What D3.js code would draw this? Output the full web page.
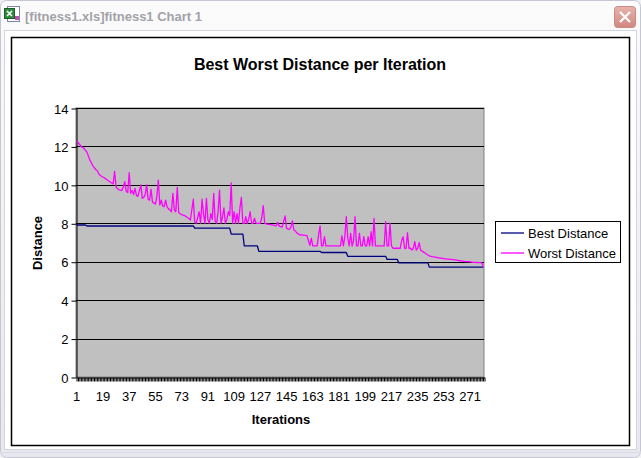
<!DOCTYPE html>
<html>
<head>
<meta charset="utf-8">
<script src="https://cdn.jsdelivr.net/npm/d3@7"></script>
<style>
  body { margin: 0; background: #fff; }
  svg { display: block; font-family: "Liberation Sans", Arial, sans-serif; }
</style>
</head>
<body>
<svg id="chart" width="641" height="458"></svg>
<script>
var windowTitle = "[fitness1.xls]fitness1 Chart 1";
var chartTitle = "Best Worst Distance per Iteration";
var seriesNames = ["Best Distance", "Worst Distance"];
var yTicks = [0, 2, 4, 6, 8, 10, 12, 14];
var xTickLabels = [1, 19, 37, 55, 73, 91, 109, 127, 145, 163, 181, 199, 217, 235, 253, 271];

var bestDistance = [
  7.91, 7.91, 7.91, 7.91, 7.91, 7.91, 7.91, 7.86, 7.86, 7.86, 7.86, 7.86, 7.86, 7.86, 7.86, 7.86, 7.86, 7.86, 7.86, 7.86,
  7.86, 7.86, 7.86, 7.86, 7.86, 7.86, 7.86, 7.86, 7.86, 7.86, 7.86, 7.86, 7.86, 7.86, 7.86, 7.86, 7.86, 7.86, 7.86, 7.86,
  7.86, 7.86, 7.86, 7.86, 7.86, 7.86, 7.86, 7.86, 7.86, 7.86, 7.86, 7.86, 7.86, 7.86, 7.86, 7.86, 7.86, 7.86, 7.86, 7.86,
  7.86, 7.86, 7.86, 7.86, 7.86, 7.86, 7.86, 7.86, 7.86, 7.86, 7.86, 7.86, 7.86, 7.86, 7.86, 7.86, 7.86, 7.86, 7.86, 7.86,
  7.86, 7.75, 7.75, 7.75, 7.75, 7.75, 7.75, 7.75, 7.75, 7.75, 7.75, 7.75, 7.75, 7.75, 7.75, 7.75, 7.75, 7.75, 7.75, 7.75,
  7.75, 7.75, 7.75, 7.75, 7.75, 7.75, 7.44, 7.44, 7.44, 7.44, 7.44, 7.44, 7.44, 7.44, 7.44, 6.82, 6.82, 6.82, 6.82, 6.82,
  6.82, 6.82, 6.82, 6.82, 6.82, 6.54, 6.54, 6.54, 6.54, 6.54, 6.54, 6.54, 6.54, 6.54, 6.54, 6.54, 6.54, 6.54, 6.54, 6.54,
  6.54, 6.54, 6.54, 6.54, 6.54, 6.54, 6.54, 6.54, 6.54, 6.54, 6.54, 6.54, 6.54, 6.54, 6.54, 6.54, 6.54, 6.54, 6.54, 6.54,
  6.54, 6.54, 6.54, 6.54, 6.54, 6.54, 6.54, 6.54, 6.48, 6.48, 6.48, 6.48, 6.48, 6.48, 6.48, 6.48, 6.48, 6.48, 6.48, 6.48,
  6.48, 6.48, 6.48, 6.48, 6.48, 6.48, 6.28, 6.28, 6.28, 6.28, 6.28, 6.28, 6.28, 6.28, 6.28, 6.28, 6.28, 6.28, 6.28, 6.28,
  6.28, 6.28, 6.28, 6.28, 6.28, 6.28, 6.28, 6.28, 6.28, 6.28, 6.28, 6.28, 6.28, 6.12, 6.12, 6.12, 6.12, 6.12, 6.12, 6.12,
  6.12, 5.94, 5.94, 5.94, 5.94, 5.94, 5.94, 5.94, 5.94, 5.94, 5.94, 5.94, 5.94, 5.94, 5.94, 5.94, 5.94, 5.94, 5.94, 5.94,
  5.94, 5.94, 5.72, 5.72, 5.72, 5.72, 5.72, 5.72, 5.72, 5.72, 5.72, 5.72, 5.72, 5.72, 5.72, 5.72, 5.72, 5.72, 5.72, 5.72,
  5.72, 5.72, 5.72, 5.72, 5.72, 5.72, 5.72, 5.72, 5.72, 5.72, 5.72, 5.72, 5.72, 5.72, 5.72, 5.72, 5.72, 5.72, 5.72, 5.72
];

var worstDistance = [
  12.3, 12.2, 12.1, 12.0, 11.95, 11.9, 11.8, 11.7, 11.5, 11.3,
  11.15, 11.0, 10.9, 10.8, 10.75, 10.6, 10.5, 10.45, 10.4, 10.37,
  10.3, 10.25, 10.2, 10.15, 10.1, 10.05, 10.7, 9.9, 9.8, 9.75,
  9.73, 9.7, 9.9, 10.17, 9.65, 9.6, 10.63, 9.56, 9.7, 9.5,
  9.82, 9.45, 9.4, 9.7, 10.0, 9.3, 9.35, 9.5, 10.0, 9.25,
  9.2, 9.77, 9.1, 9.05, 9.0, 9.4, 10.25, 8.95, 9.2, 8.9,
  8.86, 9.2, 8.86, 8.75, 8.7, 8.6, 9.56, 8.7, 8.6, 9.87,
  8.55, 8.5, 8.45, 8.43, 8.4, 8.35, 8.3, 8.25, 8.17, 8.7,
  9.25, 8.05, 8.0, 8.3, 8.6, 8.0, 9.25, 8.5, 8.0, 9.3,
  8.2, 8.0, 8.5, 8.2, 9.55, 8.1, 8.0, 8.6, 9.73, 8.0,
  8.3, 8.8, 8.0, 8.2, 8.6, 8.4, 10.1, 8.0, 8.6, 8.0,
  8.51, 8.0, 8.8, 9.35, 8.0, 8.0, 8.34, 8.0, 8.2, 8.6,
  8.0, 8.0, 8.26, 8.0, 8.0, 8.0, 8.0, 8.3, 8.92, 8.0,
  7.97, 7.95, 7.95, 7.93, 7.92, 7.9, 7.88, 7.87, 8.05, 7.85,
  7.82, 7.8, 8.1, 8.38, 7.75, 7.7, 7.68, 7.8, 8.12, 7.65,
  7.6, 7.5, 7.45, 7.4, 7.39, 7.38, 7.38, 7.37, 7.36, 7.1,
  6.85, 7.22, 6.82, 6.82, 6.82, 6.82, 7.4, 7.86, 6.82, 6.82,
  7.3, 6.82, 6.82, 6.82, 6.82, 6.82, 6.82, 6.82, 6.82, 6.82,
  6.82, 6.82, 7.35, 6.82, 7.3, 8.34, 7.24, 6.82, 7.48, 6.82,
  7.1, 8.34, 6.82, 6.82, 7.48, 6.82, 6.82, 7.3, 6.82, 6.82,
  7.3, 6.82, 7.56, 6.82, 8.26, 6.82, 6.82, 6.82, 6.82, 6.82,
  6.82, 6.82, 8.08, 6.82, 6.82, 8.0, 6.82, 6.7, 6.7, 6.7,
  6.7, 6.7, 6.7, 7.1, 7.3, 6.7, 6.7, 7.51, 6.7, 6.7,
  6.6, 6.7, 7.04, 6.6, 6.7, 6.99, 6.6, 6.55, 6.5, 6.45,
  6.4, 6.35, 6.3, 6.28, 6.26, 6.25, 6.24, 6.22, 6.2, 6.2,
  6.18, 6.17, 6.16, 6.15, 6.14, 6.13, 6.12, 6.12, 6.11, 6.1,
  6.1, 6.08, 6.06, 6.05, 6.04, 6.03, 6.02, 6.01, 6.0, 6.0,
  5.99, 5.98, 5.97, 5.97, 5.96, 5.96, 5.95, 5.95, 5.94, 5.73
];

var iterations = d3.range(1, bestDistance.length + 1);
var seriesColors = ["#000080", "#ff00ff"];

var svg = d3.select("#chart");
var plot = { left: 76, right: 484, top: 108, bottom: 377 };

// window chrome
var defs = svg.append("defs");
var grad = defs.append("linearGradient").attr("id", "titlebar").attr("x1", 0).attr("y1", 0).attr("x2", 0).attr("y2", 1);
grad.append("stop").attr("offset", "0%").attr("stop-color", "#fbfbfc");
grad.append("stop").attr("offset", "100%").attr("stop-color", "#e7e7ee");
var closeGrad = defs.append("linearGradient").attr("id", "closebtn").attr("x1", 0).attr("y1", 0).attr("x2", 0).attr("y2", 1);
closeGrad.append("stop").attr("offset", "0%").attr("stop-color", "#e8b3ad");
closeGrad.append("stop").attr("offset", "100%").attr("stop-color", "#d08880");

svg.append("rect").attr("width", 641).attr("height", 458).attr("fill", "#f1f1f5");
svg.append("rect").attr("x", 0.5).attr("y", 0.5).attr("width", 640).attr("height", 457)
  .attr("rx", 6).attr("fill", "url(#titlebar)").attr("stroke", "#c6c6d2");
svg.append("rect").attr("x", 4.5).attr("y", 30.5).attr("width", 632).attr("height", 419)
  .attr("fill", "#ffffff").attr("stroke", "#d4d4de");
svg.append("line").attr("x1", 0).attr("x2", 641).attr("y1", 452.5).attr("y2", 452.5).attr("stroke", "#dcdce6");

// excel icon
var icon = svg.append("g").attr("transform", "translate(4,6)");
icon.append("rect").attr("x", 3.5).attr("y", 0.5).attr("width", 12).attr("height", 15).attr("fill", "#ffffff").attr("stroke", "#7a8aa8");
icon.append("rect").attr("x", 0.5).attr("y", 2.5).attr("width", 10).attr("height", 10).attr("fill", "#2e8b3e").attr("stroke", "#1d5e28");
icon.append("path").attr("d", "M3,5 L8,10 M8,5 L3,10").attr("stroke", "#ffffff").attr("stroke-width", 1.6);
icon.append("rect").attr("x", 11).attr("y", 10).attr("width", 4).attr("height", 4).attr("fill", "#c04fb0");

svg.append("text").attr("x", 25).attr("y", 21)
  .style("font-size", "13px").style("font-weight", "bold").attr("fill", "#a2a2a8")
  .text(windowTitle);

var closeBtn = svg.append("g").attr("transform", "translate(614,6)");
closeBtn.append("rect").attr("x", 0.5).attr("y", 0.5).attr("width", 21).attr("height", 21).attr("rx", 3)
  .attr("fill", "url(#closebtn)").attr("stroke", "#c98a84");
closeBtn.append("path").attr("d", "M6,6 L16,16 M16,6 L6,16").attr("stroke", "#ffffff").attr("stroke-width", 2.2);

// chart area
svg.append("rect").attr("x", 11.5).attr("y", 37.5).attr("width", 618).attr("height", 408)
  .attr("fill", "#ffffff").attr("stroke", "#000000").attr("stroke-width", 1.5);

svg.append("text").attr("x", 320).attr("y", 70).attr("text-anchor", "middle")
  .style("font-size", "16px").style("font-weight", "bold").text(chartTitle);

var x = d3.scaleLinear().domain([0, iterations.length]).range([plot.left, plot.right]);
var y = d3.scaleLinear().domain([0, 14]).range([plot.bottom, plot.top]);
var xBand = d3.scaleBand().domain(iterations).range([plot.left, plot.right]).padding(0);

svg.append("rect").attr("x", plot.left).attr("y", plot.top)
  .attr("width", plot.right - plot.left).attr("height", plot.bottom - plot.top)
  .attr("fill", "#c0c0c0").attr("stroke", "#808080").attr("stroke-width", 1);

svg.append("g").selectAll("line")
  .data(yTicks.filter(function(d) { return d > 0; }))
  .enter().append("line")
  .attr("x1", plot.left).attr("x2", plot.right)
  .attr("y1", function(d) { return Math.round(y(d)) + 0.5; })
  .attr("y2", function(d) { return Math.round(y(d)) + 0.5; })
  .attr("stroke", "#000000").attr("stroke-width", 1);

var yAxis = svg.append("g").attr("transform", "translate(" + (plot.left + 0.5) + ",0.5)")
  .call(d3.axisLeft(y).tickValues(yTicks).tickSize(5).tickPadding(3).tickSizeOuter(0));
yAxis.selectAll("text").style("font-size", "13px").attr("fill", "#000").attr("dy", "0.36em");

var xAxis = svg.append("g").attr("transform", "translate(0.5," + (plot.bottom + 0.5) + ")")
  .call(d3.axisBottom(x).tickValues(d3.range(0, iterations.length + 1)).tickSize(4).tickFormat("").tickSizeOuter(0));

var xLabels = svg.append("g").attr("transform", "translate(0," + (plot.bottom + 0.5) + ")")
  .call(d3.axisBottom(xBand).tickValues(xTickLabels).tickSize(0).tickPadding(14));
xLabels.select(".domain").remove();
xLabels.selectAll("text").style("font-size", "13px").attr("fill", "#000");

svg.selectAll(".domain, .tick line").attr("stroke", "#000");

svg.append("text").attr("x", 281).attr("y", 424).attr("text-anchor", "middle")
  .style("font-size", "13px").style("font-weight", "bold").text("Iterations");
svg.append("text").attr("transform", "translate(42,243) rotate(-90)").attr("text-anchor", "middle")
  .style("font-size", "13px").style("font-weight", "bold").text("Distance");

var line = d3.line()
  .x(function(d, i) { return xBand(iterations[i]) + xBand.bandwidth() / 2; })
  .y(function(d) { return y(d); });

[bestDistance, worstDistance].forEach(function(series, k) {
  svg.append("path").datum(series)
    .attr("d", line)
    .attr("fill", "none")
    .attr("stroke", seriesColors[k])
    .attr("stroke-width", 1.3)
    .attr("stroke-linejoin", "round");
});

// legend
var legend = svg.append("g");
legend.append("rect").attr("x", 495.5).attr("y", 221.5).attr("width", 125).attr("height", 41)
  .attr("fill", "#ffffff").attr("stroke", "#000000").attr("stroke-width", 1);
seriesNames.forEach(function(name, k) {
  var ly = 233 + k * 20;
  legend.append("line").attr("x1", 501).attr("x2", 524).attr("y1", ly).attr("y2", ly)
    .attr("stroke", seriesColors[k]).attr("stroke-width", 1.3);
  legend.append("text").attr("x", 528).attr("y", ly + 4.5).style("font-size", "13px").text(name);
});
</script>
</body>
</html>
